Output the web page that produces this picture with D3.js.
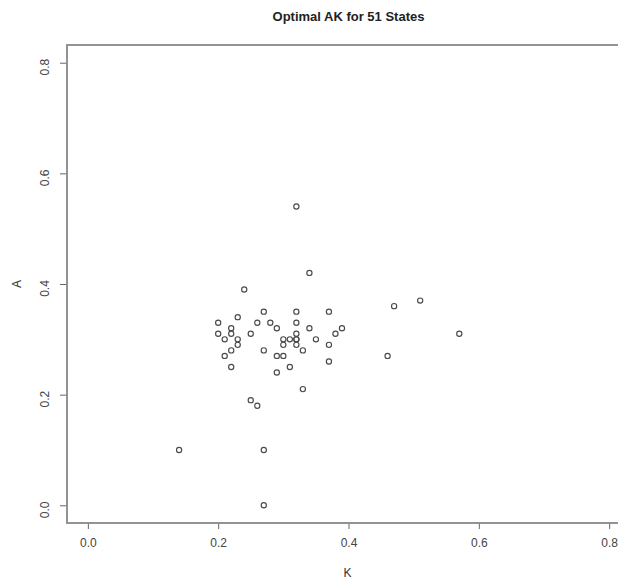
<!DOCTYPE html>
<html>
<head>
<meta charset="utf-8">
<script src="https://cdn.jsdelivr.net/npm/d3@7"></script>
<style>
  body { margin: 0; background: #fff; }
  svg { display: block; font-family: "Liberation Sans", Arial, sans-serif; }
</style>
</head>
<body>
<div id="chart"></div>
<script>
// optimal K and A per state (0.01 steps)
const kValues = [0.24, 0.23, 0.20, 0.22, 0.20, 0.22, 0.21, 0.23, 0.23, 0.22,
  0.21, 0.22, 0.25, 0.27, 0.26, 0.28, 0.29, 0.27, 0.29, 0.30,
  0.29, 0.31, 0.25, 0.26, 0.34, 0.32, 0.37, 0.47, 0.32, 0.34,
  0.39, 0.38, 0.32, 0.30, 0.31, 0.32, 0.35, 0.30, 0.32, 0.37,
  0.33, 0.46, 0.37, 0.33, 0.14, 0.27, 0.27, 0.32, 0.51, 0.57,
  0.32];
const aValues = [0.39, 0.34, 0.33, 0.32, 0.31, 0.31, 0.30, 0.30, 0.29, 0.28,
  0.27, 0.25, 0.31, 0.35, 0.33, 0.33, 0.32, 0.28, 0.27, 0.27,
  0.24, 0.25, 0.19, 0.18, 0.42, 0.35, 0.35, 0.36, 0.33, 0.32,
  0.32, 0.31, 0.31, 0.30, 0.30, 0.30, 0.30, 0.29, 0.29, 0.29,
  0.28, 0.27, 0.26, 0.21, 0.10, 0.10, 0.00, 0.54, 0.37, 0.31,
  0.30]; // last one sits on top of another point
const xTicks = [0, 0.2, 0.4, 0.6, 0.8];
const yTicks = [0, 0.2, 0.4, 0.6, 0.8];
const titleText = "Optimal AK for 51 States";
const xLabel = "K";
const yLabel = "A";

const width = 618;
const height = 580;
const plot = { left: 67, right: 630, top: 45, bottom: 523 };

const points = kValues.map((k, i) => ({ k: k, a: aValues[i] }));

const svg = d3.select("#chart")
  .append("svg")
  .attr("width", width)
  .attr("height", height);

// R style: limits 0..0.8 padded by 4%
const pad = 0.8 * 0.04;
const x = d3.scaleLinear().domain([-pad, 0.8 + pad]).range([plot.left, plot.right]);
const y = d3.scaleLinear().domain([-pad, 0.8 + pad]).range([plot.bottom, plot.top]);

// title
svg.append("text")
  .attr("x", (plot.left + plot.right) / 2)
  .attr("y", 21)
  .attr("text-anchor", "middle")
  .style("font-size", "13px")
  .style("font-weight", "bold")
  .style("fill", "#222")
  .text(titleText);

// x axis
const xAxis = svg.append("g")
  .attr("transform", `translate(0,${plot.bottom})`)
  .call(d3.axisBottom(x).tickValues(xTicks).tickFormat(d3.format(".1f")).tickSize(6).tickPadding(10));
xAxis.select(".domain").remove();
xAxis.selectAll("line").attr("stroke", "#666");
xAxis.selectAll("text")
  .style("font-size", "12px")
  .style("fill", "#444")
  .attr("dy", "0.32em")
  .attr("y", 20);

// y axis, labels turned like R's default las=0
const yAxis = svg.append("g")
  .attr("transform", `translate(${plot.left},0)`)
  .call(d3.axisLeft(y).tickValues(yTicks).tickFormat(d3.format(".1f")).tickSize(7));
yAxis.select(".domain").remove();
yAxis.selectAll("line").attr("stroke", "#666");
yAxis.selectAll("text")
  .attr("x", null)
  .attr("dy", null)
  .attr("text-anchor", "middle")
  .attr("transform", "translate(-18,4) rotate(-90)")
  .style("font-size", "12px")
  .style("fill", "#444");

// axis titles
svg.append("text")
  .attr("x", (plot.left + plot.right) / 2 - 1)
  .attr("y", 577)
  .attr("text-anchor", "middle")
  .style("font-size", "12px")
  .style("fill", "#333")
  .text(xLabel);

svg.append("text")
  .attr("transform", `translate(21,${y(0.4)}) rotate(-90)`)
  .attr("text-anchor", "middle")
  .style("font-size", "12px")
  .style("fill", "#333")
  .text(yLabel);

// frame (right edge falls outside the window)
svg.append("rect")
  .attr("x", plot.left)
  .attr("y", plot.top)
  .attr("width", plot.right - plot.left)
  .attr("height", plot.bottom - plot.top)
  .attr("fill", "none")
  .attr("stroke", "#888")
  .attr("stroke-width", 1.8);

// points, open circles
svg.append("g")
  .selectAll("circle")
  .data(points)
  .enter()
  .append("circle")
  .attr("cx", (d) => x(d.k))
  .attr("cy", (d) => y(d.a))
  .attr("r", 2.6)
  .attr("fill", "none")
  .attr("stroke", "#4a4a4a")
  .attr("stroke-width", 1.15);
</script>
</body>
</html>
